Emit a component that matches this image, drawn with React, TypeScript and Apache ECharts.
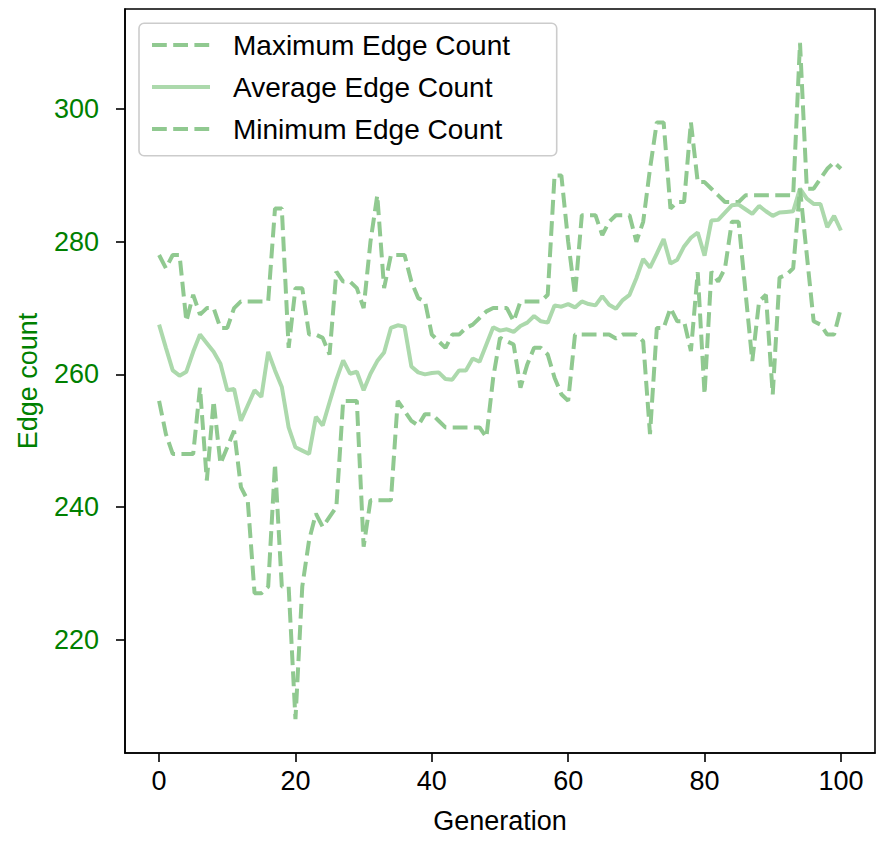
import React, { useEffect, useRef } from "react";
import * as echarts from "echarts";

const generations: number[] = Array.from({ length: 101 }, (_, i) => i);

const maxEdges: number[] = [
  278, 276, 278, 278, 268, 272, 269, 270, 270, 267,
  267, 270, 271, 271, 271, 271, 271, 285, 285, 264,
  273, 273, 266, 266, 265.5, 263, 275.5, 274, 274, 273,
  270, 280, 287, 273, 278, 278, 278, 274, 271.5, 271,
  266, 265, 264, 266, 266, 267, 267.5, 268.5, 269.5, 270,
  270, 270, 268, 271, 271, 271, 271, 272, 290, 290,
  280, 272, 284, 284, 284, 281, 283, 284, 284, 284,
  280, 283, 291, 298, 298, 285, 286, 286, 298, 289,
  289, 288, 287, 286, 286, 286, 287, 287, 287, 287,
  287, 287, 287, 287, 310, 288, 288, 289.5, 291, 292,
  291,
];

const avgEdges: number[] = [
  267.5, 264, 260.6, 259.8, 260.4, 263.4, 266, 264.7, 263.4, 261.6,
  257.6, 257.8, 253, 255.3, 257.6, 256.6, 263.4, 260.6, 258.1, 252,
  249, 248.5, 248, 253.6, 252.3, 255.8, 259.2, 262.1, 260.1, 260.4,
  257.6, 260.1, 262, 263.3, 267, 267.4, 267.2, 261.2, 260.3, 260,
  260.2, 260.3, 259.3, 259.2, 260.6, 260.6, 262.4, 261.9, 264.5, 267.1,
  266.6, 266.8, 266.4, 267.3, 267.8, 268.8, 268, 267.8, 270.4, 270.2,
  270.6, 270.1, 271, 270.6, 270.4, 271.8, 270.5, 269.9, 271.2, 272,
  274.5, 277.4, 276.1, 278.2, 280.4, 276.7, 277.3, 279.3, 280.6, 281.4,
  277.9, 283.2, 283.3, 284.4, 285.5, 285.6, 284.9, 284.2, 285.4, 284.6,
  283.9, 284.4, 284.5, 284.6, 288, 286.5, 285.7, 285.7, 282.2, 283.9,
  281.7,
];

const minEdges: number[] = [
  256, 251, 248, 248, 248, 248, 258, 244, 256, 246.5,
  249, 251.5, 243, 241, 227, 227, 228, 246.5, 228, 228,
  208, 228, 235, 239, 237, 238.5, 240, 256, 256, 256,
  234, 241, 241, 241, 241, 256, 254.5, 253, 252.3, 254,
  254, 253, 252, 252, 252, 252, 252, 252, 250.5, 259.5,
  265.5, 265, 264.5, 258, 261.5, 264, 264, 263, 259.5, 257,
  256, 266, 266, 266, 266, 266, 266, 265.4, 266, 266,
  266, 265, 251, 267, 267, 270, 268, 268, 263.5, 275.4,
  257, 275.5, 274, 276, 283, 283, 272.5, 262, 271, 272,
  257, 274.6, 275, 276, 288, 278, 268, 267.5, 266, 266,
  270,
];

const xTicks: number[] = [0, 20, 40, 60, 80, 100];
const yTicks: number[] = [220, 240, 260, 280, 300];

const seriesNames: string[] = [
  "Maximum Edge Count",
  "Average Edge Count",
  "Minimum Edge Count",
];

const FONT = "'Liberation Sans', Arial, Helvetica, sans-serif";
const DASH_COLOR = "#90c990";
const SOLID_COLOR = "#acd9ac";
const LABEL_GREEN = "#008000";

export default function App() {
  const ref = useRef<HTMLDivElement | null>(null);

  useEffect(() => {
    document.body.style.margin = "0";
    if (!ref.current) return;
    const chart = echarts.init(ref.current, undefined, { renderer: "svg" });

    const toPairs = (vals: number[]) => generations.map((g, i) => [g, vals[i]]);
    const dashed = [14.8, 6.4];

    const option: any = {
      animation: false,
      backgroundColor: "#ffffff",
      textStyle: { fontFamily: FONT },
      grid: {
        left: 125,
        right: 8,
        top: 9,
        bottom: 100,
        show: true,
        borderColor: "#000000",
        borderWidth: 1.6,
        backgroundColor: "transparent",
      },
      xAxis: {
        type: "value",
        min: -5,
        max: 105,
        name: "Generation",
        nameLocation: "middle",
        nameGap: 54,
        nameTextStyle: { color: "#000000", fontSize: 27, fontFamily: FONT },
        axisLine: { show: true, onZero: false, lineStyle: { color: "#000000", width: 1.6 } },
        axisTick: {
          show: true,
          inside: false,
          length: 9,
          customValues: xTicks,
          lineStyle: { color: "#000000", width: 1.6 },
        },
        axisLabel: {
          customValues: xTicks,
          color: "#000000",
          fontSize: 27,
          fontFamily: FONT,
          margin: 14,
        },
        splitLine: { show: false },
      },
      yAxis: {
        type: "value",
        min: 202.9,
        max: 315.1,
        name: "Edge count",
        nameLocation: "middle",
        nameGap: 84,
        nameTextStyle: { color: LABEL_GREEN, fontSize: 27, fontFamily: FONT },
        axisLine: { show: true, onZero: false, lineStyle: { color: "#000000", width: 1.6 } },
        axisTick: {
          show: true,
          inside: false,
          length: 9,
          customValues: yTicks,
          lineStyle: { color: "#000000", width: 1.6 },
        },
        axisLabel: {
          customValues: yTicks,
          color: LABEL_GREEN,
          fontSize: 27,
          fontFamily: FONT,
          margin: 26,
        },
        splitLine: { show: false },
      },
      legend: {
        orient: "vertical",
        left: 150,
        top: 31,
        padding: 0,
        itemWidth: 58,
        itemHeight: 14,
        itemGap: 14,
        data: seriesNames,
        itemStyle: { opacity: 0 },
        lineStyle: { width: 4 },
        textStyle: {
          fontSize: 28,
          lineHeight: 28,
          color: "#000000",
          fontFamily: FONT,
          padding: [0, 0, 0, 18],
        },
        z: 5,
      },
      graphic: [
        {
          type: "rect",
          z: 3,
          shape: { x: 139, y: 23.3, width: 417.7, height: 132.4, r: 5 },
          style: { fill: "#ffffff", stroke: "#cccccc", lineWidth: 1.6 },
        },
      ],
      series: [
        {
          name: seriesNames[0],
          type: "line",
          data: toPairs(maxEdges),
          symbol: "none",
          showSymbol: false,
          lineStyle: { color: DASH_COLOR, width: 4, type: dashed, cap: "butt" },
          itemStyle: { color: DASH_COLOR },
          z: 2,
        },
        {
          name: seriesNames[1],
          type: "line",
          data: toPairs(avgEdges),
          symbol: "none",
          showSymbol: false,
          lineStyle: { color: SOLID_COLOR, width: 4, type: "solid" },
          itemStyle: { color: SOLID_COLOR },
          z: 2,
        },
        {
          name: seriesNames[2],
          type: "line",
          data: toPairs(minEdges),
          symbol: "none",
          showSymbol: false,
          lineStyle: { color: DASH_COLOR, width: 4, type: dashed, cap: "butt" },
          itemStyle: { color: DASH_COLOR },
          z: 2,
        },
      ],
    };

    chart.setOption(option);
    return () => {
      chart.dispose();
    };
  }, []);

  return <div ref={ref} style={{ width: 883, height: 853 }} />;
}
